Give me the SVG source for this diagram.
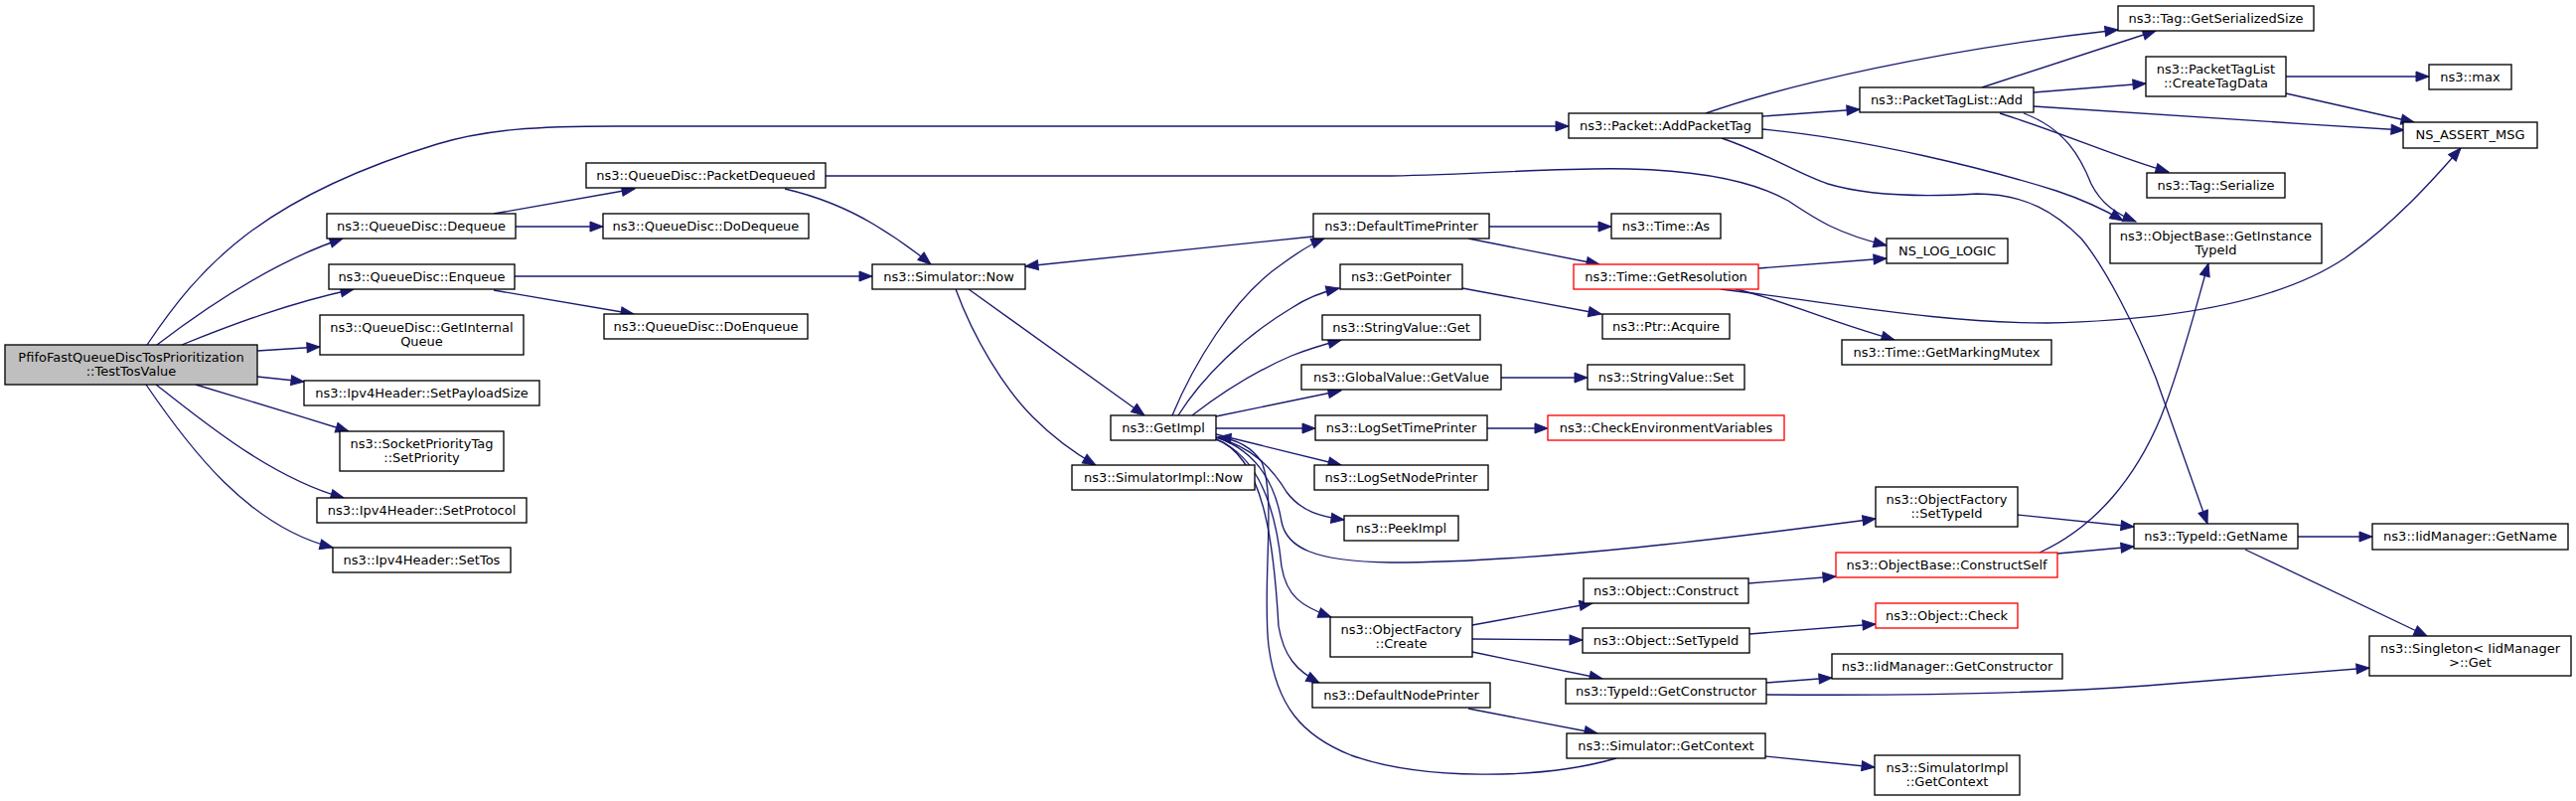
<svg xmlns="http://www.w3.org/2000/svg" width="2593" height="806" viewBox="0 0 2593 806">
<style>
.n rect{fill:#fff;stroke:#000;stroke-width:1.33}
.n.root rect{fill:#bfbfbf}
.n.red rect{stroke:#ff0000}
text{font-family:"DejaVu Sans","Liberation Sans",sans-serif;font-size:13px;text-anchor:middle;fill:#000}
#edges path{fill:none;stroke:#191970;stroke-width:1.33;marker-end:url(#a)}
</style>
<defs>
<marker id="a" markerUnits="userSpaceOnUse" markerWidth="14" markerHeight="11" refX="13" refY="5" orient="auto" overflow="visible">
<path d="M0,0 L13,5 L0,10 z" fill="#191970" stroke="#191970" stroke-width="1"/>
</marker>
</defs>
<rect width="2593" height="806" fill="#fff"/>
<g id="edges">
<path d="M148,347 C200,270 260,200 440,145 C490,130 540,127 620,127 L1579,127"/>
<path d="M158,347 C200,315 270,265 345,240"/>
<path d="M183,347 C230,328 290,305 356,291"/>
<path d="M259,353 L322,349"/>
<path d="M259,379 L306,384"/>
<path d="M197,387 C250,403 300,418 351,434"/>
<path d="M157,387 C200,420 270,480 346,501"/>
<path d="M147,387 C190,450 250,530 335,551"/>
<path d="M497,215 L639,190"/>
<path d="M519,228 L607,228"/>
<path d="M518,278 L878,278"/>
<path d="M497,292 L638,316"/>
<path d="M831,177 L1400,177 C1500,175 1580,168 1640,170 C1720,172 1770,185 1800,202 C1830,222 1850,235 1899,247"/>
<path d="M790,190 C820,197 850,208 880,226 C900,238 920,252 937,266"/>
<path d="M975,291 L1152,418"/>
<path d="M962,291 C980,340 1010,390 1040,420 C1060,440 1080,455 1103,468"/>
<path d="M1322,238 L1032,268"/>
<path d="M1180,418 C1200,370 1240,300 1290,266 C1305,255 1318,246 1333,240"/>
<path d="M1186,418 C1210,380 1250,340 1300,310 C1315,300 1330,294 1348,290"/>
<path d="M1200,418 C1230,395 1260,375 1300,358 C1320,350 1335,346 1350,342"/>
<path d="M1224,419 L1350,393"/>
<path d="M1224,431 L1324,431"/>
<path d="M1224,437 L1350,468"/>
<path d="M1224,440 C1260,450 1280,470 1295,495 C1310,515 1330,520 1353,523"/>
<path d="M1224,440 C1270,455 1285,495 1290,525 C1295,550 1320,565 1400,566 C1550,566 1750,540 1888,522"/>
<path d="M1224,442 C1270,460 1285,520 1290,570 C1295,600 1310,610 1340,621"/>
<path d="M1224,442 C1275,460 1283,560 1287,630 C1292,660 1305,675 1328,687"/>
<path d="M1627,763 C1550,785 1430,785 1360,760 C1310,740 1285,710 1277,650 C1270,590 1285,500 1270,465 C1260,450 1245,442 1226,440"/>
<path d="M1499,228 L1622,228"/>
<path d="M1478,240 L1610,266"/>
<path d="M1472,290 L1612,316"/>
<path d="M1511,380 L1598,380"/>
<path d="M1497,431 L1558,431"/>
<path d="M1482,629 L1603,607"/>
<path d="M1482,643 L1593,644"/>
<path d="M1482,656 L1613,683"/>
<path d="M1478,713 L1608,738"/>
<path d="M1760,587 L1848,580"/>
<path d="M1761,638 L1888,628"/>
<path d="M1778,687 L1844,682"/>
<path d="M1778,699 C1900,700 2050,698 2160,690 L2385,672"/>
<path d="M1777,761 L1887,772"/>
<path d="M2031,518 L2148,530"/>
<path d="M2071,557 L2148,550"/>
<path d="M2053,556 C2110,530 2150,480 2175,420 C2195,370 2210,310 2223,265"/>
<path d="M2313,540 L2388,540"/>
<path d="M2260,553 L2443,640"/>
<path d="M1770,270 L1899,260"/>
<path d="M1747,291 C1790,300 1830,320 1907,342"/>
<path d="M1732,291 C1850,305 1950,325 2060,325 C2200,322 2300,300 2360,260 C2410,225 2450,180 2477,149"/>
<path d="M1717,114 C1800,85 1950,50 2132,30"/>
<path d="M1774,117 L1872,110"/>
<path d="M1774,130 C1880,140 2000,170 2070,192 C2100,202 2120,212 2137,222"/>
<path d="M1733,139 C1780,155 1810,175 1840,185 C1880,197 1940,198 1990,195 C2040,195 2070,215 2095,240 C2120,270 2150,330 2170,380 L2222,527"/>
<path d="M1995,88 L2170,31"/>
<path d="M2047,93 L2160,84"/>
<path d="M2047,107 C2200,116 2300,124 2420,131"/>
<path d="M2013,114 C2080,135 2130,158 2183,173"/>
<path d="M2037,114 C2080,130 2095,160 2105,185 C2115,205 2130,215 2150,223"/>
<path d="M2301,77 L2445,77"/>
<path d="M2301,94 L2430,123"/>
</g>
<g id="root" class="n root"><rect x="5" y="347" width="254" height="40"/><text x="132" y="363.5">PfifoFastQueueDiscTosPrioritization</text><text x="132" y="377.5">::TestTosValue</text></g>
<g id="dequeue" class="n"><rect x="329" y="215" width="190" height="25"/><text x="424" y="232">ns3::QueueDisc::Dequeue</text></g>
<g id="enqueue" class="n"><rect x="331" y="266" width="187" height="25"/><text x="424.5" y="283">ns3::QueueDisc::Enqueue</text></g>
<g id="getinternalqueue" class="n"><rect x="322" y="317" width="205" height="40"/><text x="424.5" y="333.5">ns3::QueueDisc::GetInternal</text><text x="424.5" y="347.5">Queue</text></g>
<g id="setpayloadsize" class="n"><rect x="306" y="383" width="237" height="25"/><text x="424.5" y="400">ns3::Ipv4Header::SetPayloadSize</text></g>
<g id="setpriority" class="n"><rect x="342" y="434" width="165" height="40"/><text x="424.5" y="450.5">ns3::SocketPriorityTag</text><text x="424.5" y="464.5">::SetPriority</text></g>
<g id="setprotocol" class="n"><rect x="319" y="501" width="211" height="25"/><text x="424.5" y="518">ns3::Ipv4Header::SetProtocol</text></g>
<g id="settos" class="n"><rect x="335" y="551" width="179" height="25"/><text x="424.5" y="568">ns3::Ipv4Header::SetTos</text></g>
<g id="packetdequeued" class="n"><rect x="590" y="164" width="241" height="25"/><text x="710.5" y="181">ns3::QueueDisc::PacketDequeued</text></g>
<g id="dodequeue" class="n"><rect x="607" y="215" width="207" height="25"/><text x="710.5" y="232">ns3::QueueDisc::DoDequeue</text></g>
<g id="doenqueue" class="n"><rect x="608" y="316" width="205" height="25"/><text x="710.5" y="333">ns3::QueueDisc::DoEnqueue</text></g>
<g id="simulatornow" class="n"><rect x="878" y="266" width="154" height="25"/><text x="955" y="283">ns3::Simulator::Now</text></g>
<g id="getimpl" class="n"><rect x="1118" y="418" width="106" height="25"/><text x="1171" y="435">ns3::GetImpl</text></g>
<g id="simulatorimplnow" class="n"><rect x="1079" y="468" width="184" height="25"/><text x="1171" y="485">ns3::SimulatorImpl::Now</text></g>
<g id="addpackettag" class="n"><rect x="1579" y="114" width="195" height="25"/><text x="1676.5" y="131">ns3::Packet::AddPacketTag</text></g>
<g id="defaulttimeprinter" class="n"><rect x="1322" y="215" width="177" height="25"/><text x="1410.5" y="232">ns3::DefaultTimePrinter</text></g>
<g id="getpointer" class="n"><rect x="1349" y="266" width="123" height="25"/><text x="1410.5" y="283">ns3::GetPointer</text></g>
<g id="stringvalueget" class="n"><rect x="1331" y="317" width="159" height="25"/><text x="1410.5" y="334">ns3::StringValue::Get</text></g>
<g id="globalvaluegetvalue" class="n"><rect x="1310" y="367" width="201" height="25"/><text x="1410.5" y="384">ns3::GlobalValue::GetValue</text></g>
<g id="logsettimeprinter" class="n"><rect x="1324" y="418" width="173" height="25"/><text x="1410.5" y="435">ns3::LogSetTimePrinter</text></g>
<g id="logsetnodeprinter" class="n"><rect x="1323" y="468" width="175" height="25"/><text x="1410.5" y="485">ns3::LogSetNodePrinter</text></g>
<g id="peekimpl" class="n"><rect x="1353" y="519" width="115" height="25"/><text x="1410.5" y="536">ns3::PeekImpl</text></g>
<g id="objectfactorycreate" class="n"><rect x="1339" y="621" width="143" height="40"/><text x="1410.5" y="637.5">ns3::ObjectFactory</text><text x="1410.5" y="651.5">::Create</text></g>
<g id="defaultnodeprinter" class="n"><rect x="1321" y="687" width="179" height="25"/><text x="1410.5" y="704">ns3::DefaultNodePrinter</text></g>
<g id="timeas" class="n"><rect x="1622" y="215" width="110" height="25"/><text x="1677" y="232">ns3::Time::As</text></g>
<g id="getresolution" class="n red"><rect x="1584" y="266" width="186" height="25"/><text x="1677" y="283">ns3::Time::GetResolution</text></g>
<g id="ptracquire" class="n"><rect x="1613" y="316" width="128" height="25"/><text x="1677" y="333">ns3::Ptr::Acquire</text></g>
<g id="stringvalueset" class="n"><rect x="1598" y="367" width="158" height="25"/><text x="1677" y="384">ns3::StringValue::Set</text></g>
<g id="checkenvironmentvariables" class="n red"><rect x="1558" y="418" width="238" height="25"/><text x="1677" y="435">ns3::CheckEnvironmentVariables</text></g>
<g id="objectconstruct" class="n"><rect x="1594" y="582" width="166" height="25"/><text x="1677" y="599">ns3::Object::Construct</text></g>
<g id="objectsettypeid" class="n"><rect x="1593" y="632" width="168" height="25"/><text x="1677" y="649">ns3::Object::SetTypeId</text></g>
<g id="typeidgetconstructor" class="n"><rect x="1576" y="683" width="202" height="25"/><text x="1677" y="700">ns3::TypeId::GetConstructor</text></g>
<g id="simulatorgetcontext" class="n"><rect x="1577" y="738" width="200" height="25"/><text x="1677" y="755">ns3::Simulator::GetContext</text></g>
<g id="packettaglistadd" class="n"><rect x="1872" y="88" width="175" height="25"/><text x="1959.5" y="105">ns3::PacketTagList::Add</text></g>
<g id="nsloglogic" class="n"><rect x="1899" y="240" width="122" height="25"/><text x="1960" y="257">NS_LOG_LOGIC</text></g>
<g id="getmarkingmutex" class="n"><rect x="1854" y="342" width="211" height="25"/><text x="1959.5" y="359">ns3::Time::GetMarkingMutex</text></g>
<g id="objectfactorysettypeid" class="n"><rect x="1888" y="490" width="143" height="40"/><text x="1959.5" y="506.5">ns3::ObjectFactory</text><text x="1959.5" y="520.5">::SetTypeId</text></g>
<g id="constructself" class="n red"><rect x="1848" y="556" width="223" height="25"/><text x="1959.5" y="573">ns3::ObjectBase::ConstructSelf</text></g>
<g id="objectcheck" class="n red"><rect x="1888" y="607" width="143" height="25"/><text x="1959.5" y="624">ns3::Object::Check</text></g>
<g id="iidmanagergetconstructor" class="n"><rect x="1844" y="658" width="232" height="25"/><text x="1960" y="675">ns3::IidManager::GetConstructor</text></g>
<g id="simulatorimplgetcontext" class="n"><rect x="1887" y="760" width="146" height="40"/><text x="1960" y="776.5">ns3::SimulatorImpl</text><text x="1960" y="790.5">::GetContext</text></g>
<g id="getserializedsize" class="n"><rect x="2132" y="6" width="197" height="25"/><text x="2230.5" y="23">ns3::Tag::GetSerializedSize</text></g>
<g id="createtagdata" class="n"><rect x="2160" y="57" width="141" height="40"/><text x="2230.5" y="73.5">ns3::PacketTagList</text><text x="2230.5" y="87.5">::CreateTagData</text></g>
<g id="tagserialize" class="n"><rect x="2161" y="174" width="139" height="25"/><text x="2230.5" y="191">ns3::Tag::Serialize</text></g>
<g id="getinstancetypeid" class="n"><rect x="2124" y="225" width="213" height="40"/><text x="2230.5" y="241.5">ns3::ObjectBase::GetInstance</text><text x="2230.5" y="255.5">TypeId</text></g>
<g id="typeidgetname" class="n"><rect x="2148" y="527" width="165" height="25"/><text x="2230.5" y="544">ns3::TypeId::GetName</text></g>
<g id="max" class="n"><rect x="2445" y="65" width="83" height="25"/><text x="2486.5" y="82">ns3::max</text></g>
<g id="nsassertmsg" class="n"><rect x="2419" y="123" width="135" height="26"/><text x="2486.5" y="140">NS_ASSERT_MSG</text></g>
<g id="iidmanagergetname" class="n"><rect x="2388" y="527" width="197" height="26"/><text x="2486.5" y="544">ns3::IidManager::GetName</text></g>
<g id="singletonget" class="n"><rect x="2385" y="640" width="203" height="40"/><text x="2486.5" y="656.5">ns3::Singleton&lt; IidManager</text><text x="2486.5" y="670.5">&gt;::Get</text></g>
</svg>
